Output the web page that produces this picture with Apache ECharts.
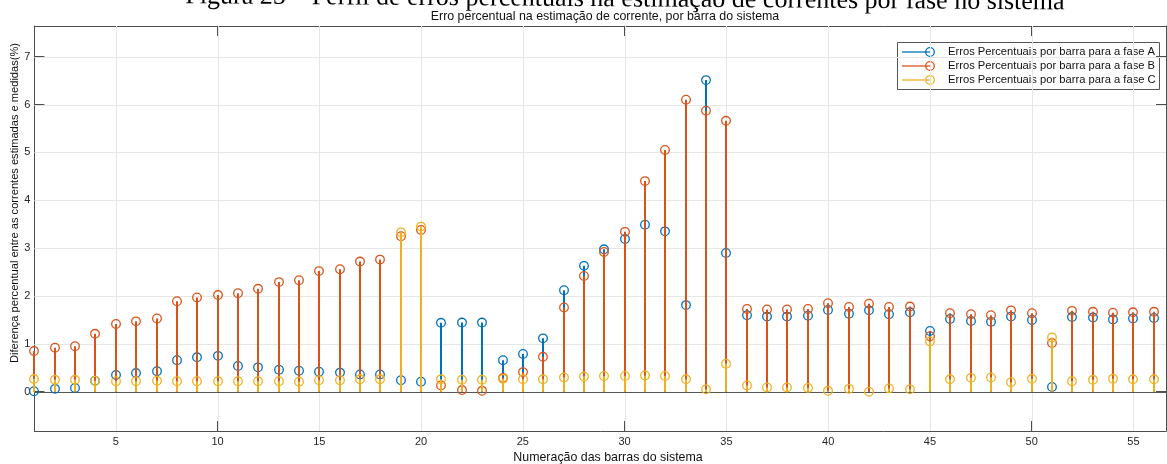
<!DOCTYPE html>
<html>
<head>
<meta charset="utf-8">
<script src="https://cdn.jsdelivr.net/npm/echarts@6/dist/echarts.min.js"></script>
<style>
html,body{margin:0;padding:0;background:#fff;}
#chart{width:1167px;height:464px;}
</style>
</head>
<body>
<div id="chart"></div>
<script>
const buses = [1,2,3,4,5,6,7,8,9,10,11,12,13,14,15,16,17,18,19,20,21,22,23,24,25,26,27,28,29,30,31,32,33,34,35,36,37,38,39,40,41,42,43,44,45,46,47,48,49,50,51,52,53,54,55,56];
const phaseA = [0.01,0.06,0.08,0.23,0.35,0.39,0.43,0.66,0.72,0.75,0.54,0.51,0.46,0.44,0.42,0.40,0.36,0.36,0.24,0.21,
  1.44,1.445,1.445,0.66,0.79,1.115,2.12,2.63,2.975,3.19,3.49,3.35,1.81,6.51,2.90,
  1.60,1.57,1.57,1.59,1.71,1.63,1.70,1.62,1.66,1.27,1.52,1.48,1.46,1.57,1.50,0.10,1.56,1.55,1.51,1.53,1.54];
const phaseB = [0.85,0.92,0.95,1.21,1.415,1.47,1.53,1.89,1.97,2.02,2.06,2.15,2.29,2.33,2.52,2.56,2.72,2.76,3.25,3.38,
  0.13,0.035,0.02,0.29,0.41,0.73,1.76,2.42,2.92,3.34,4.40,5.05,6.10,5.87,5.66,
  1.73,1.72,1.72,1.73,1.85,1.77,1.84,1.77,1.78,1.16,1.64,1.62,1.60,1.70,1.64,1.02,1.69,1.67,1.65,1.66,1.67];
const phaseC = [0.265,0.25,0.25,0.23,0.22,0.22,0.23,0.22,0.22,0.22,0.22,0.22,0.22,0.21,0.24,0.24,0.26,0.26,3.33,3.45,
  0.26,0.25,0.25,0.27,0.26,0.26,0.30,0.32,0.33,0.33,0.34,0.33,0.26,0.05,0.585,
  0.13,0.09,0.09,0.08,0.02,0.06,0.00,0.07,0.05,1.05,0.26,0.29,0.30,0.20,0.27,1.135,0.22,0.25,0.27,0.26,0.26];
const xTicks = [5,10,15,20,25,30,35,40,45,50,55];
const yTicks = [0,1,2,3,4,5,6,7];
const seriesNames = ['Erros Percentuais por barra para a fase A','Erros Percentuais por barra para a fase B','Erros Percentuais por barra para a fase C'];
const colors = ['#0072BD','#D95319','#EDB120'];
const caption = 'Figura 25 – Perfil de erros percentuais na estimação de correntes por fase no sistema';
const titleText = 'Erro percentual na estimação de corrente, por barra do sistema';
const xName = 'Numeração das barras do sistema';
const yName = 'Diferença percentual entre as correntes estimadas e medidas(%)';

const X_MIN = 1, X_MAX = 56.6, Y_MIN = -0.82, Y_MAX = 7.64;
const AX = '#4d4d4d';
const GRIDC = '#e6e6e6';
const FONT = 'Liberation Sans, Arial, sans-serif';

const chart = echarts.init(document.getElementById('chart'), null, {renderer:'canvas'});

function stemSeries(name, vals, color, z){
  return {
    type:'custom', name:name, xAxisIndex:0, yAxisIndex:0, z:z,
    data: vals.map((v,i)=>[buses[i], v]),
    renderItem: function(params, api){
      const p = api.coord([api.value(0), api.value(1)]);
      const b = api.coord([api.value(0), 0]);
      const sx = Math.round(p[0]);
      return {type:'group', children:[
        {type:'line', shape:{x1:sx,y1:b[1],x2:sx,y2:p[1]}, style:{stroke:color, lineWidth:2, opacity:1}},
        {type:'circle', shape:{cx:sx,cy:p[1],r:4.3}, style:{fill:null, stroke:color, lineWidth:1.3, opacity:1}}
      ]};
    },
    silent:true, animation:false
  };
}

// grid lines + baseline drawn through the axes' scales
const gridSeries = {
  type:'custom', xAxisIndex:0, yAxisIndex:0, silent:true, animation:false, z:1,
  data:[[0]],
  renderItem: function(params, api){
    const ch = [];
    xTicks.forEach(t=>{
      const a = api.coord([t, Y_MIN]), b = api.coord([t, Y_MAX]);
      const sx = Math.round(a[0]) + 0.5;
      ch.push({type:'line', shape:{x1:sx,y1:a[1],x2:sx,y2:b[1]}, style:{stroke:GRIDC, lineWidth:1}});
    });
    yTicks.forEach(t=>{
      const a = api.coord([X_MIN, t]), b = api.coord([X_MAX, t]);
      const sy = Math.round(a[1]) + 0.5;
      ch.push({type:'line', shape:{x1:a[0],y1:sy,x2:b[0],y2:sy}, style:{stroke:GRIDC, lineWidth:1}});
    });
    return {type:'group', children:ch};
  }
};
const baseSeries = {
  type:'custom', xAxisIndex:0, yAxisIndex:0, silent:true, animation:false, z:3,
  data:[[0]],
  renderItem: function(params, api){
    const a = api.coord([X_MIN, 0]), b = api.coord([X_MAX, 0]);
    const sy = Math.round(a[1]) + 0.5;
    return {type:'line', shape:{x1:a[0],y1:sy,x2:b[0],y2:sy}, style:{stroke:'#555', lineWidth:1.2}};
  }
};

const legendX = 897, legendY = 42, legendW = 262, legendH = 47;
const legendEls = [{type:'rect', shape:{x:legendX+0.5,y:legendY+0.5,width:legendW,height:legendH}, style:{fill:'#fff', stroke:'#555', lineWidth:1}}];
seriesNames.forEach((n,i)=>{
  const yy = 52 + i*14;
  legendEls.push({type:'line', shape:{x1:902,y1:yy,x2:930,y2:yy}, style:{stroke:colors[i], lineWidth:1.3}});
  legendEls.push({type:'circle', shape:{cx:930,cy:yy,r:4.3}, style:{fill:null, stroke:colors[i], lineWidth:1.3}});
  legendEls.push({type:'text', x:948, y:yy, style:{text:n, font:'11.2px '+FONT, fill:'#111', verticalAlign:'middle', align:'left'}});
});

const option = {
  animation:false,
  backgroundColor:'#fff',
  grid:{left:34.4, right:1, top:26, bottom:33, containLabel:false},
  xAxis:[{
    type:'value', min:X_MIN, max:X_MAX, position:'bottom',
    axisLine:{show:true, onZero:false, lineStyle:{color:AX, width:1}},
    axisTick:{show:true, inside:true, length:10, lineStyle:{color:AX}, customValues:xTicks},
    axisLabel:{show:true, customValues:xTicks, color:'#262626', fontSize:11, fontFamily:FONT, margin:5},
    splitLine:{show:false}
  },{
    type:'value', min:X_MIN, max:X_MAX, position:'top',
    axisLine:{show:true, onZero:false, lineStyle:{color:AX, width:1}},
    axisTick:{show:true, inside:true, length:10, lineStyle:{color:AX}, customValues:xTicks},
    axisLabel:{show:false},
    splitLine:{show:false}
  }],
  yAxis:[{
    type:'value', min:Y_MIN, max:Y_MAX, position:'left',
    axisLine:{show:true, onZero:false, lineStyle:{color:AX, width:1}},
    axisTick:{show:true, inside:true, length:10, lineStyle:{color:AX}, customValues:yTicks},
    axisLabel:{show:true, customValues:yTicks, color:'#262626', fontSize:11, fontFamily:FONT, margin:4},
    splitLine:{show:false}
  },{
    type:'value', min:Y_MIN, max:Y_MAX, position:'right',
    axisLine:{show:true, onZero:false, lineStyle:{color:AX, width:1}},
    axisTick:{show:true, inside:true, length:10, lineStyle:{color:AX}, customValues:yTicks},
    axisLabel:{show:false},
    splitLine:{show:false}
  }],
  series:[
    gridSeries,
    baseSeries,
    stemSeries(seriesNames[0], phaseA, colors[0], 4),
    stemSeries(seriesNames[1], phaseB, colors[1], 5),
    stemSeries(seriesNames[2], phaseC, colors[2], 6)
  ],
  graphic:[
    {type:'text', x:625, y:-0.5, rotation:-0.007, z:10, style:{text:caption, font:'26px Liberation Serif, Times New Roman, serif', fill:'#000', align:'center', verticalAlign:'middle'}},
    {type:'text', x:605, y:17, z:10, style:{text:titleText, font:'12.4px '+FONT, fill:'#111', align:'center', verticalAlign:'middle'}},
    {type:'text', x:608, y:458, z:10, style:{text:xName, font:'12.4px '+FONT, fill:'#111', align:'center', verticalAlign:'middle'}},
    {type:'text', x:15, y:203, rotation:Math.PI/2, z:10, style:{text:yName, font:'11.1px '+FONT, fill:'#111', align:'center', verticalAlign:'middle'}},
    {type:'group', z:20, children:legendEls}
  ]
};
chart.setOption(option);
</script>
</body>
</html>
